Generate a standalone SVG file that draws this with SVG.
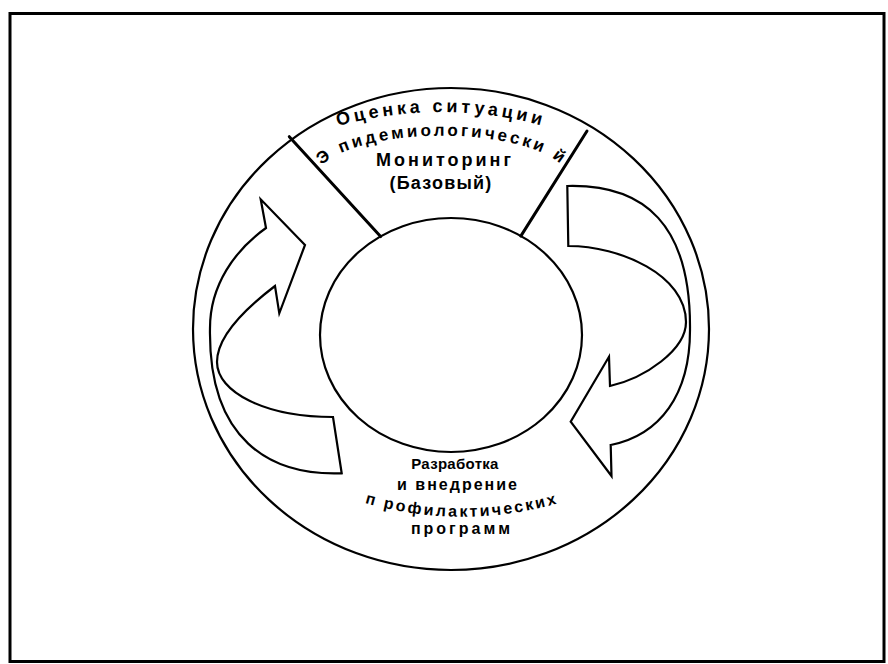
<svg xmlns="http://www.w3.org/2000/svg" width="888" height="664" viewBox="0 0 888 664">
<style>
.ln{fill:none;stroke:#000;stroke-width:2.2}
.ar{fill:#fff;stroke:#000;stroke-width:2.2;stroke-linejoin:miter}
.dv{stroke:#000;stroke-width:3;stroke-linecap:round}
.t{font-family:"Liberation Sans",Arial,sans-serif;font-weight:bold;fill:#000}
</style>
<defs>
<path id="p1" d="M 320,131.7 A 382 382 0 0 1 562,131.7"/>
<path id="p2" d="M 317,171 A 128 45 0 0 1 567,171"/>
<path id="p3" d="M 352,499 A 350 350 0 0 0 572,499"/>
</defs>
<rect id="frame" x="10" y="13.5" width="874" height="648" fill="#fff" stroke="#000" stroke-width="3"/>
<g id="outer-ring"><ellipse class="ln" cx="451" cy="329" rx="258" ry="241"/></g>
<g id="connectors">
<path id="arrow-left" class="ar" d="M 266,228 L 260.7,199.3 L 305,245 L 279.3,313.3 L 275,286 C 250,305 217,335 217,362 C 217,392 265,417 333,417 L 341.7,473.3 C 270,476 208,440 210,328 C 210,285 235,250 266,228 Z"/>
<path id="arrow-right" class="ar" d="M 567.3,186 C 645,184 691,225 690,330 C 690,395 660,435 610.7,445 L 611.5,476 L 570.7,421.7 L 609,356.7 L 610,386 C 645,378 686,350 686,322 C 686,275 620,246 568.3,246 Z"/>
</g>
<g id="inner-circle"><ellipse class="ln" cx="451" cy="335" rx="131" ry="117"/></g>
<g id="dividers">
<line class="dv" x1="289.3" y1="136.7" x2="380.6" y2="236.6"/>
<line class="dv" x1="587" y1="131" x2="520.8" y2="236.1"/>
</g>
<g id="top-label" class="t">
<text font-size="18" letter-spacing="3.7" text-anchor="middle"><textPath href="#p1" startOffset="50%">Оценка ситуации</textPath></text>
<text font-size="17" letter-spacing="3" text-anchor="middle"><textPath href="#p2" startOffset="50%">Э пидемиологически й</textPath></text>
<text x="445" y="166" font-size="18" letter-spacing="3" text-anchor="middle">Мониторинг</text>
<text x="441" y="189" font-size="18" letter-spacing="1.2" text-anchor="middle">(Базовый)</text>
</g>
<g id="bottom-label" class="t">
<text x="455" y="469" font-size="15" letter-spacing="0.3" text-anchor="middle">Разработка</text>
<text x="458" y="490" font-size="16" letter-spacing="2" text-anchor="middle">и внедрение</text>
<text font-size="16" letter-spacing="2.4" text-anchor="middle"><textPath href="#p3" startOffset="50%">п рофилактических</textPath></text>
<text x="462" y="534" font-size="16" letter-spacing="3" text-anchor="middle">программ</text>
</g>
</svg>
